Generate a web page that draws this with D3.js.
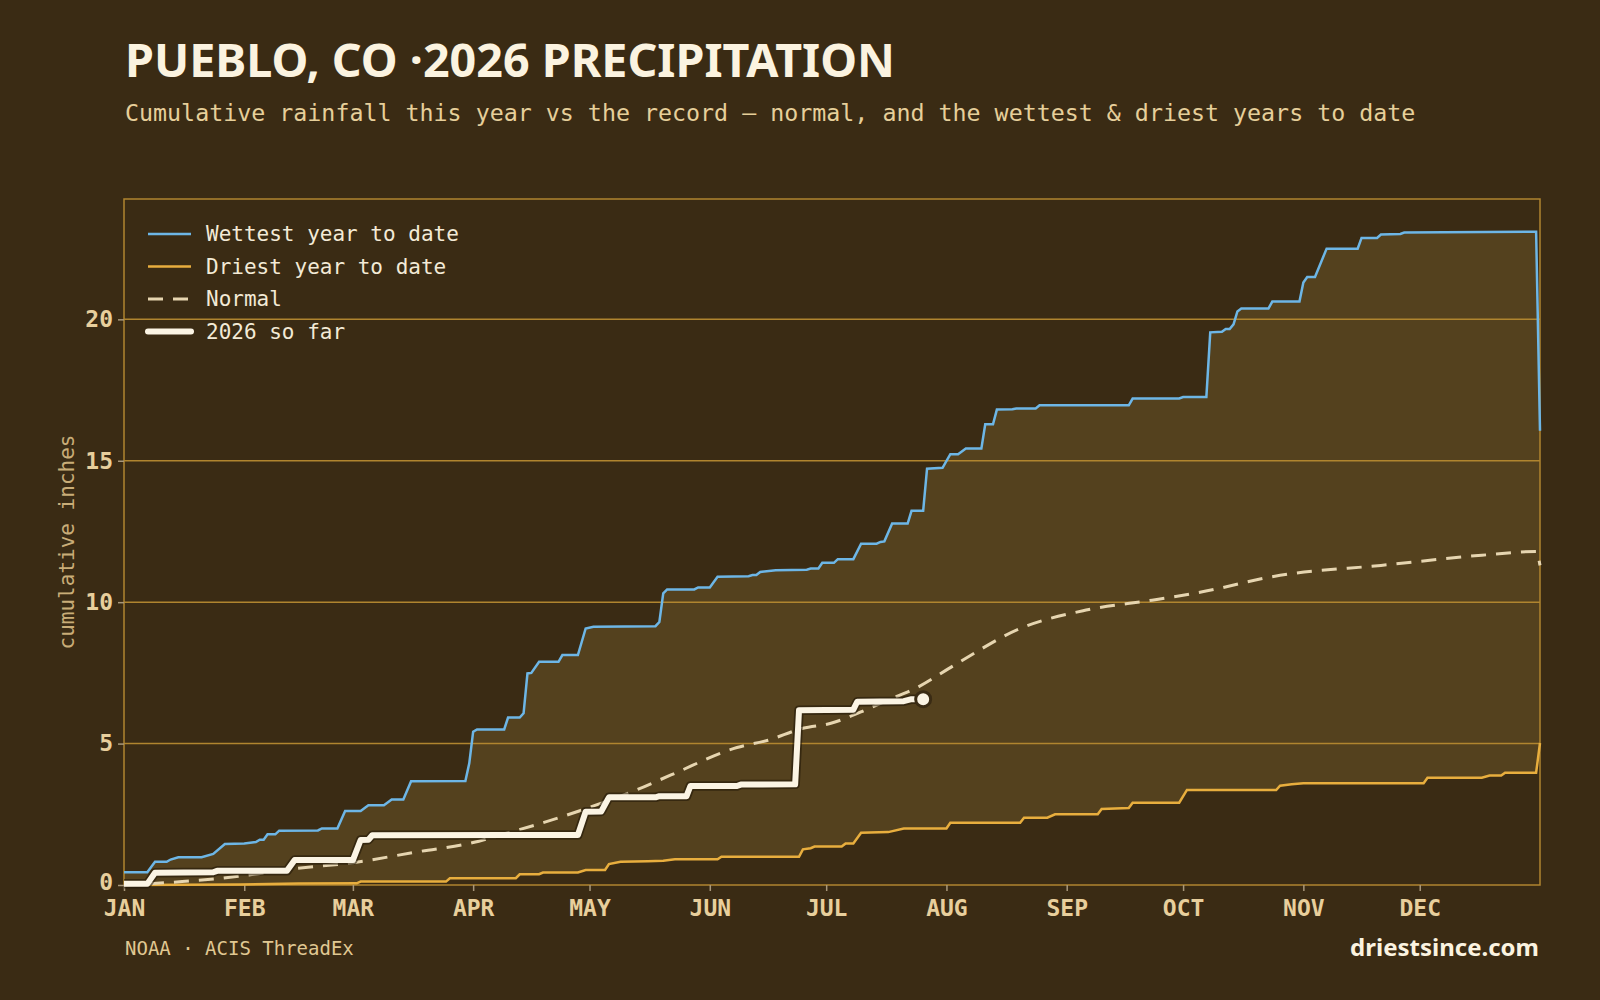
<!DOCTYPE html>
<html>
<head>
<meta charset="utf-8">
<script src="https://cdn.jsdelivr.net/npm/d3@7"></script>
<style>
  body { margin: 0; background: #3a2b14; }
  svg { display: block; }
</style>
</head>
<body>
<div class="chart"></div>
<script>
// page + plot box
var width = 1600;
var height = 1000;
var plotLeft = 124, plotRight = 1540, plotTop = 199, plotBottom = 885;

var bgColor = '#3a2b14';
var bandColor = '#54411e';
var frameColor = '#b0852f';
var wetColor = '#6db6e6';
var dryColor = '#e8ae3e';
var normalColor = '#e6d5b0';
var nowColor = '#fbf4e4';
var labelColor = '#e8cf9c';

// month axis (day of year, 0 = Jan 1)
var monthLabels = ["JAN","FEB","MAR","APR","MAY","JUN","JUL","AUG","SEP","OCT","NOV","DEC"];
var monthStarts = [0, 31, 59, 90, 120, 151, 181, 212, 243, 273, 304, 334];
var yTicks = [0, 5, 10, 15, 20];

// [day, cumulative inches]
var wettest = [[0,0.45],[6,0.45],[8,0.82],[11,0.82],[12,0.9],[14,0.98],[20,0.98],[23,1.1],[26,1.45],
  [31,1.47],[34,1.52],[35,1.6],[36,1.6],[37,1.79],[39,1.79],[40,1.92],[50,1.93],[51,2.0],[55,2.0],
  [57,2.62],[61,2.62],[63,2.82],[67,2.82],[69,3.02],[72,3.02],[74,3.67],[88,3.68],[89,4.3],[90,5.42],
  [91,5.5],[98,5.5],[99,5.92],[102,5.92],[103,6.07],[104,7.48],[105,7.5],[107,7.89],[112,7.89],
  [113,8.13],[117,8.13],[119,9.07],[121,9.13],[137,9.15],[138,9.3],[139,10.31],[140,10.45],[147,10.45],
  [148,10.52],[151,10.52],[153,10.9],[161,10.92],[162,10.96],[163,10.96],[164,11.07],[168,11.13],
  [176,11.15],[177,11.19],[179,11.19],[180,11.39],[183,11.39],[184,11.52],[188,11.52],[190,12.07],
  [194,12.07],[195,12.13],[196,12.15],[198,12.78],[202,12.78],[203,13.23],[206,13.23],[207,14.72],
  [211,14.75],[213,15.23],[215,15.23],[217,15.43],[221,15.43],[222,16.29],[224,16.29],[225,16.81],
  [229,16.82],[230,16.85],[235,16.85],[236,16.96],[259,16.96],[260,17.2],[272,17.2],[273,17.25],
  [279,17.25],[280,19.54],[283,19.56],[284,19.66],[285,19.66],[286,19.82],[287,20.28],[288,20.38],
  [295,20.38],[296,20.63],[303,20.63],[304,21.3],[305,21.5],[307,21.5],[310,22.5],[318,22.5],
  [319,22.88],[323,22.88],[324,23.0],[329,23.02],[330,23.07],[364,23.1],[365,16.06]];

var driest = [[0,0],[30,0.02],[45,0.05],[60,0.06],[61,0.12],[83,0.12],[84,0.24],[101,0.24],[102,0.38],
  [107,0.38],[108,0.44],[117,0.44],[119,0.53],[124,0.53],[125,0.74],[128,0.82],[135,0.84],[139,0.86],
  [142,0.91],[153,0.91],[154,1.0],[174,1.0],[175,1.26],[177,1.3],[178,1.36],[185,1.36],[186,1.47],
  [188,1.47],[190,1.85],[197,1.87],[201,2.0],[212,2.0],[213,2.2],[231,2.2],[232,2.38],[238,2.38],
  [240,2.5],[251,2.5],[252,2.69],[259,2.72],[260,2.91],[272,2.91],[274,3.36],[297,3.36],[298,3.51],
  [301,3.56],[304,3.6],[335,3.6],[336,3.79],[350,3.79],[352,3.87],[355,3.87],[356,3.97],[364,3.97],
  [365,5.02]];

var normal = [[0,0],[15,0.12],[31,0.33],[42,0.55],[59,0.79],[76,1.18],[90,1.5],[97,1.77],[106,2.12],
  [124,2.94],[131,3.3],[141,3.89],[158,4.86],[166,5.12],[175,5.54],[182,5.71],[192,6.24],[197,6.54],
  [204,6.95],[214,7.77],[231,9.07],[248,9.72],[265,10.07],[277,10.34],[298,10.95],[324,11.3],
  [350,11.66],[364,11.79],[365,11.3]];

var thisYear = [[0,0.04],[6,0.04],[8,0.43],[23,0.45],[24,0.5],[42,0.5],[44,0.88],[59,0.88],[61,1.59],
  [63,1.6],[64,1.76],[117,1.77],[119,2.59],[123,2.6],[125,3.1],[137,3.1],[138,3.14],[145,3.14],
  [146,3.5],[158,3.5],[159,3.55],[173,3.56],[174,6.18],[188,6.2],[189,6.48],[201,6.5],[203,6.57],
  [206,6.57]];

var legendLabels = ["Wettest year to date", "Driest year to date", "Normal", "2026 so far"];

var svg = d3.select(".chart")
  .append("svg")
  .attr("width", width)
  .attr("height", height);

svg.append("rect").attr("width", width).attr("height", height).attr("fill", bgColor);

var xScale = d3.scaleLinear().domain([0, 365]).range([plotLeft, plotRight]);
var yMax = d3.max(wettest, d => d[1]) * 1.05;
var yScale = d3.scaleLinear().domain([0, yMax]).range([plotBottom, plotTop]);

var line = d3.line().x(d => xScale(d[0])).y(d => yScale(d[1]));

// band between wettest and driest
var band = wettest.concat(driest.slice().reverse());
svg.append("path")
   .attr("d", line(band) + "Z")
   .attr("fill", bandColor);

// gridlines
svg.selectAll(".grid")
   .data(yTicks.filter(d => d > 0))
   .enter()
   .append("line")
   .attr("class", "grid")
   .attr("x1", plotLeft)
   .attr("x2", plotRight)
   .attr("y1", d => yScale(d))
   .attr("y2", d => yScale(d))
   .attr("stroke", frameColor)
   .attr("stroke-width", 1.5);

// frame
svg.append("rect")
   .attr("x", plotLeft)
   .attr("y", plotTop)
   .attr("width", plotRight - plotLeft)
   .attr("height", plotBottom - plotTop)
   .attr("fill", "none")
   .attr("stroke", frameColor)
   .attr("stroke-width", 1.5);

// axes
var xAxis = d3.axisBottom(xScale)
  .tickValues(monthStarts)
  .tickFormat((d, i) => monthLabels[i])
  .tickSize(6)
  .tickPadding(6);
var yAxis = d3.axisLeft(yScale)
  .tickValues(yTicks)
  .tickSize(6)
  .tickPadding(5);

var gx = svg.append("g")
  .attr("id", "x-axis")
  .attr("transform", "translate(0," + plotBottom + ")")
  .call(xAxis);
var gy = svg.append("g")
  .attr("id", "y-axis")
  .attr("transform", "translate(" + plotLeft + ",0)")
  .call(yAxis);

[gx, gy].forEach(g => {
  g.select(".domain").remove();
  g.selectAll(".tick line").attr("stroke", "#a8977a").attr("stroke-width", 1.5);
  g.selectAll(".tick text")
   .attr("fill", labelColor)
   .style("font-family", "'DejaVu Sans Mono', monospace")
   .style("font-weight", "bold")
   .style("font-size", "23px");
});
gx.selectAll(".tick text").attr("dy", "0.82em");
// nudge the zero label so it clears JAN
gy.selectAll(".tick text").filter(d => d === 0).attr("dy", "0.2em");

// series lines
svg.append("path")
   .attr("d", line(driest))
   .attr("fill", "none")
   .attr("stroke", dryColor)
   .attr("stroke-width", 2.5);

svg.append("path")
   .attr("d", line(wettest))
   .attr("fill", "none")
   .attr("stroke", wetColor)
   .attr("stroke-width", 2.5);

svg.append("path")
   .attr("d", d3.line().curve(d3.curveMonotoneX).x(d => xScale(d[0])).y(d => yScale(d[1]))(normal))
   .attr("fill", "none")
   .attr("stroke", normalColor)
   .attr("stroke-width", 3)
   .attr("stroke-dasharray", "15,10");

svg.append("path")
   .attr("d", line(thisYear))
   .attr("fill", "none")
   .attr("stroke", "rgba(30,20,6,0.55)")
   .attr("stroke-width", 9.5)
   .attr("stroke-linejoin", "round");
svg.append("path")
   .attr("d", line(thisYear))
   .attr("fill", "none")
   .attr("stroke", nowColor)
   .attr("stroke-width", 6)
   .attr("stroke-linejoin", "round");

var last = thisYear[thisYear.length - 1];
svg.append("circle")
   .attr("cx", xScale(last[0]))
   .attr("cy", yScale(last[1]))
   .attr("r", 7.5)
   .attr("fill", nowColor)
   .attr("stroke", bgColor)
   .attr("stroke-width", 3);

// legend
var legendStyles = [
  {color: wetColor, w: 2.5, dash: null},
  {color: dryColor, w: 2.5, dash: null},
  {color: normalColor, w: 3, dash: "15,10"},
  {color: nowColor, w: 6, dash: null}
];
var legend = svg.append("g").attr("transform", "translate(148,234)");
legendLabels.forEach((lab, i) => {
  var yy = i * 32.5;
  legend.append("line")
    .attr("x1", 0).attr("x2", 43)
    .attr("y1", yy).attr("y2", yy)
    .attr("stroke", legendStyles[i].color)
    .attr("stroke-width", legendStyles[i].w)
    .attr("stroke-linecap", i === 3 ? "round" : "butt")
    .attr("stroke-dasharray", legendStyles[i].dash);
  legend.append("text")
    .attr("x", 58)
    .attr("y", yy)
    .attr("dy", "0.35em")
    .attr("fill", "#f3ead6")
    .style("font-family", "'DejaVu Sans Mono', monospace")
    .style("font-size", "21px")
    .text(lab);
});

// titles
svg.append("text")
   .attr("x", 125)
   .attr("y", 77)
   .attr("fill", "#fbf3e0")
   .attr("textLength", 770)
   .attr("lengthAdjust", "spacingAndGlyphs")
   .style("font-family", "'Noto Sans', sans-serif")
   .style("font-weight", "bold")
   .style("font-size", "46px")
   .text("PUEBLO, CO ·2026 PRECIPITATION");

svg.append("text")
   .attr("x", 125)
   .attr("y", 121)
   .attr("fill", "#e6cf9a")
   .style("font-family", "'DejaVu Sans Mono', monospace")
   .style("font-size", "23.3px")
   .text("Cumulative rainfall this year vs the record — normal, and the wettest & driest years to date");

svg.append("text")
   .attr("transform", "translate(74," + ((plotTop + plotBottom) / 2) + ") rotate(-90)")
   .attr("text-anchor", "middle")
   .attr("fill", "#c9ad78")
   .style("font-family", "'DejaVu Sans Mono', monospace")
   .style("font-size", "21px")
   .text("cumulative inches");

svg.append("text")
   .attr("x", 125)
   .attr("y", 955)
   .attr("fill", "#e0c892")
   .style("font-family", "'DejaVu Sans Mono', monospace")
   .style("font-size", "19px")
   .text("NOAA · ACIS ThreadEx");

svg.append("text")
   .attr("x", 1539)
   .attr("y", 956)
   .attr("text-anchor", "end")
   .attr("fill", "#fbf3e0")
   .style("font-family", "'Noto Sans', sans-serif")
   .style("font-weight", "bold")
   .style("font-size", "24px")
   .text("driestsince.com");
</script>
</body>
</html>
